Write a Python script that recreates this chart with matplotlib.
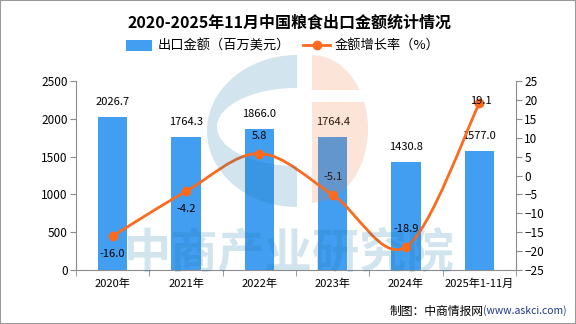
import matplotlib
matplotlib.use("Agg")
import numpy as np
import matplotlib.pyplot as plt
from matplotlib.path import Path
from matplotlib.patches import PathPatch, Rectangle, Polygon
from matplotlib.lines import Line2D
from matplotlib.patches import Patch

plt.rcParams['font.family'] = ['Noto Sans CJK SC', 'DejaVu Sans']

categories = ["2020年", "2021年", "2022年", "2023年", "2024年", "2025年1-11月"]
export_value = [2026.7, 1764.3, 1866.0, 1764.4, 1430.8, 1577.0]
growth_rate = [-16.0, -4.2, 5.8, -5.1, -18.9, 19.1]
left_ticks = [0, 500, 1000, 1500, 2000, 2500]
right_ticks = [-25, -20, -15, -10, -5, 0, 5, 10, 15, 20, 25]

BLUE = "#419ef1"
ORANGE = "#fc6a1e"
GRAY = "#8c8c8c"
W, H = 576, 324

fig = plt.figure(figsize=(5.76, 3.24), dpi=100)
fig.patch.set_facecolor("white")
fig.patches.append(Rectangle((0, 0), 1, 1, transform=fig.transFigure, fill=False,
                             edgecolor="#9a9a9a", linewidth=1.5, zorder=100))

ax = fig.add_axes([76/W, 1-270/H, 440/W, 189/H])
ax.patch.set_alpha(0)
x = list(range(len(categories)))
ax.bar(x, export_value, width=0.4, color=BLUE, zorder=2)
ax.set_xlim(-0.5, len(categories) - 0.5)
ax.set_ylim(0, 2500)
ax.set_yticks(left_ticks)
ax.set_xticks(x)
ax.set_xticklabels(categories, fontsize=8)
ax.set_xticks([i - 0.5 for i in range(len(categories) + 1)], minor=True)
ax.tick_params(axis='x', which='major', length=0, pad=6)
ax.tick_params(axis='x', which='minor', length=4, color=GRAY)
ax.tick_params(axis='y', length=4, color=GRAY, labelsize=8.5, pad=2)
for s in ["top", "right"]:
    ax.spines[s].set_visible(False)
for s in ["left", "bottom"]:
    ax.spines[s].set_color(GRAY)
for xi, v in zip(x, export_value):
    ax.annotate(f"{v:.1f}", (xi, v), xytext=(0, 7), textcoords="offset points",
                ha="center", va="bottom", fontsize=8, zorder=5)

ax2 = ax.twinx()
ax2.set_ylim(-25, 25)
ax2.set_yticks(right_ticks)
ax2.tick_params(axis='y', length=4, color=GRAY, labelsize=8.5, pad=2)
for s in ["top", "left", "bottom"]:
    ax2.spines[s].set_visible(False)
ax2.spines["right"].set_color(GRAY)

# smooth curve (Catmull-Rom rendered as Bezier segments)
pts = list(zip(x, growth_rate))
verts = [pts[0]]
codes = [Path.MOVETO]
n = len(pts)
for i in range(n - 1):
    p0 = pts[i - 1] if i > 0 else pts[i]
    p1 = pts[i]
    p2 = pts[i + 1]
    p3 = pts[i + 2] if i + 2 < n else pts[i + 1]
    t = 1 / 3
    c1 = (p1[0] + (p2[0] - p0[0]) * t / 2, p1[1] + (p2[1] - p0[1]) * t / 2)
    c2 = (p2[0] - (p3[0] - p1[0]) * t / 2, p2[1] - (p3[1] - p1[1]) * t / 2)
    verts += [c1, c2, p2]
    codes += [Path.CURVE4] * 3
ax2.add_patch(PathPatch(Path(verts, codes), facecolor="none", edgecolor=ORANGE,
                        linewidth=2, zorder=4))
ax2.plot(x, growth_rate, linestyle="none", marker="o", markersize=6,
         color=ORANGE, zorder=5)

offsets = [(0, -13), (0, -13), (0, 13), (0, 13), (0, 13), (1, 2)]
for xi, v, off in zip(x, growth_rate, offsets):
    ax2.annotate(f"{v:.1f}", (xi, v), xytext=off, textcoords="offset points",
                 ha="center", va="center", fontsize=8, zorder=6)

# --- logo watermark (decorative overlay, in figure pixels) ---
def fp(px, py):
    return (px / W, 1 - py / H)

# blue "C"-like shape
cx, cy = 297, 131
ang = np.linspace(np.pi / 2, 3 * np.pi / 2, 60)
outer = [fp(cx + 90 * np.cos(a), cy - 76 * np.sin(a)) for a in ang]
icx, icy = 297, 127
ang2 = np.linspace(3 * np.pi / 2, np.pi / 2, 60)
inner = [fp(icx + 80 * np.cos(a), icy - 39 * np.sin(a)) for a in ang2]
blue_poly = outer + inner
fig.patches.append(Polygon(blue_poly, closed=True, transform=fig.transFigure,
                           facecolor="#1e78aa", alpha=0.2, edgecolor="none", zorder=60))

# orange half-ellipse split by a gap
ocx, ocy, orx, ory = 312, 129, 56, 74
def orange_piece(y0, y1):
    ys = np.linspace(y0, y1, 40)
    xs = ocx + orx * np.sqrt(np.clip(1 - ((ys - ocy) / ory) ** 2, 0, 1))
    p = [fp(ocx, y0)] + [fp(a, b) for a, b in zip(xs, ys)] + [fp(ocx, y1)]
    return p
for y0, y1 in [(ocy - ory, 90), (102, ocy + ory)]:
    fig.patches.append(Polygon(orange_piece(y0, y1), closed=True, transform=fig.transFigure,
                               facecolor="#f07a3c", alpha=0.2, edgecolor="none", zorder=60))

# watermark text
fig.text(289/W, 1-253/H, "中商产业研究院", fontsize=34, fontweight="bold",
         color="#1e78aa", alpha=0.2, ha="center", va="center", zorder=60)

fig.text(289/W, 1-22/H, "2020-2025年11月中国粮食出口金额统计情况",
         fontsize=11.5, fontweight="bold", ha="center", va="center")

handles = [Patch(facecolor=BLUE, edgecolor="none"),
           Line2D([0], [0], color=ORANGE, lw=2, marker="o", markersize=6)]
fig.legend(handles, ["出口金额（百万美元）", "金额增长率（%）"], loc="center",
           bbox_to_anchor=(283/W, 1-46/H), ncol=2, frameon=False,
           fontsize=9.5, handlelength=2.0, handleheight=0.9, columnspacing=1.0,
           handletextpad=0.4)

fig.text(567/W, 1-311/H, "(www.askci.com)", fontsize=7.5, color="#1f3a8c",
         ha="right", va="center")
fig.text(484/W, 1-311/H, "制图：中商情报网", fontsize=8.5, ha="right", va="center")

fig.savefig("out.png", dpi=100)
